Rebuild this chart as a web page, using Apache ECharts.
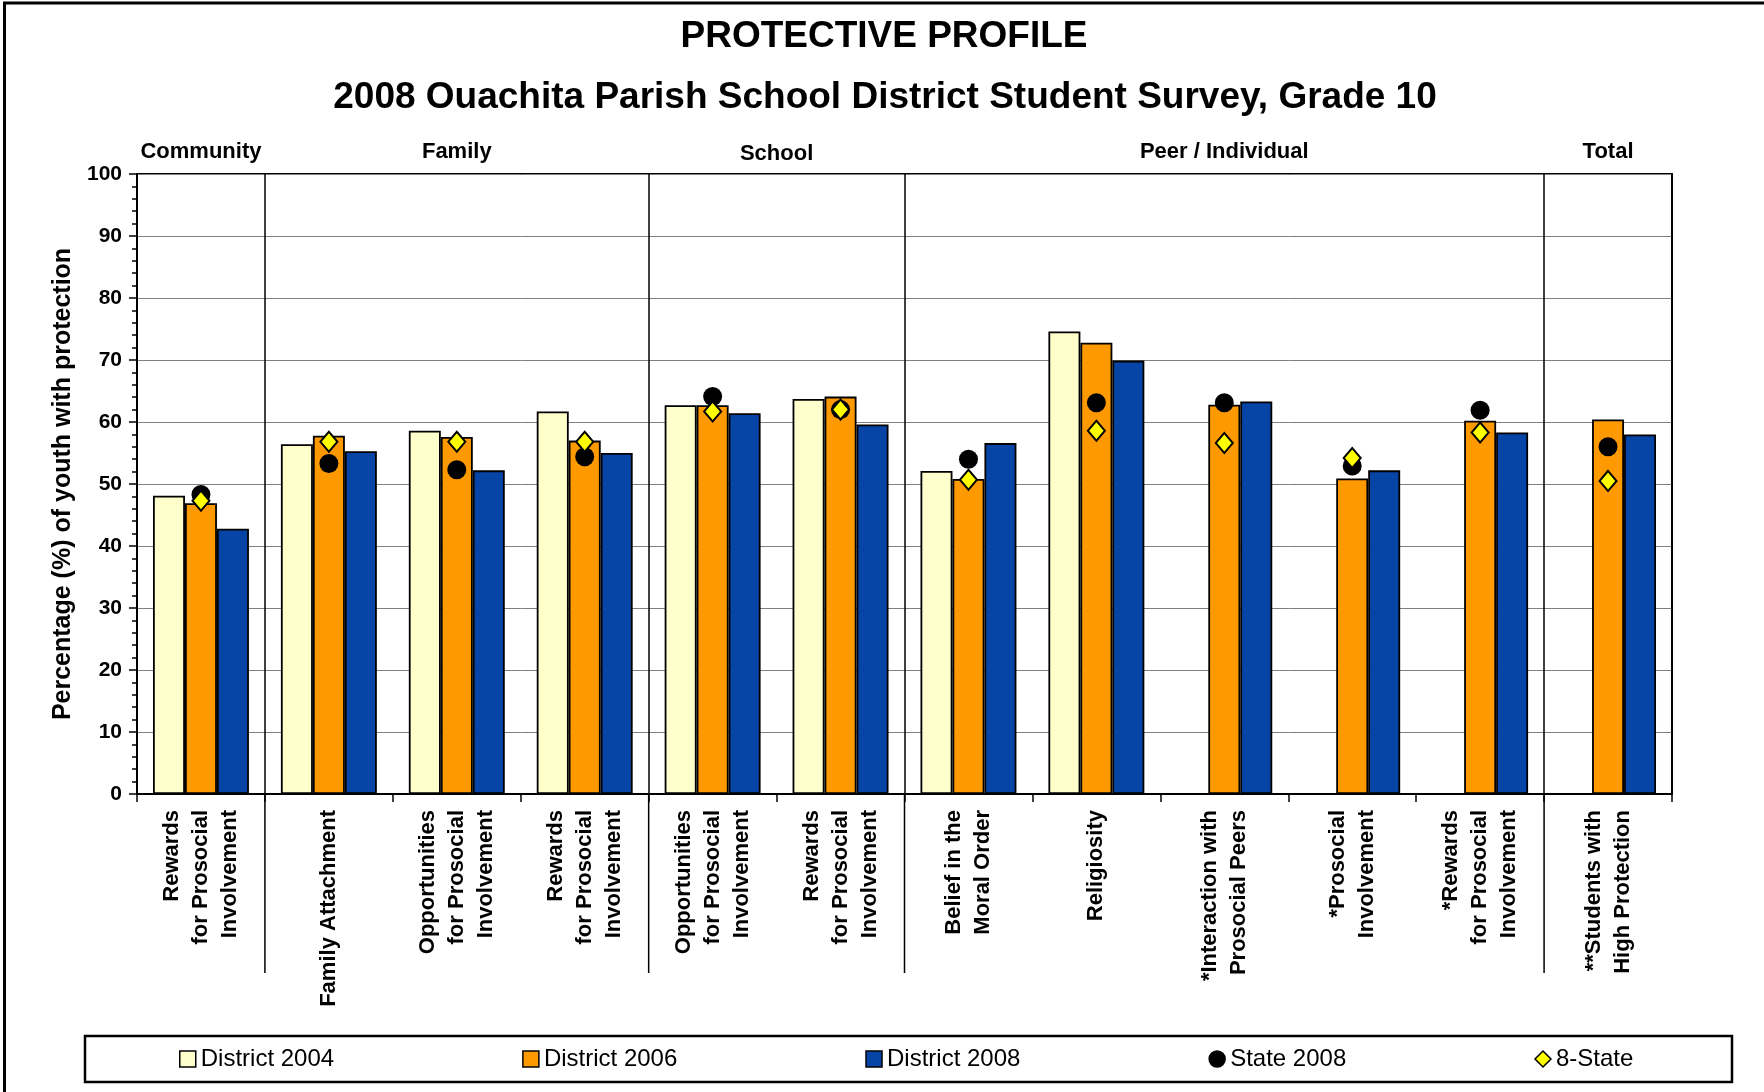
<!DOCTYPE html>
<html><head><meta charset="utf-8">
<script src="https://cdn.jsdelivr.net/npm/echarts@6/dist/echarts.min.js"></script>
<style>html,body{margin:0;padding:0;background:#fff}#c{width:1764px;height:1092px}</style>
</head><body><div id="c"></div>
<script>
// ---- data ----
const categories = [
  'Rewards\nfor Prosocial\nInvolvement',
  'Family Attachment',
  'Opportunities\nfor Prosocial\nInvolvement',
  'Rewards\nfor Prosocial\nInvolvement',
  'Opportunities\nfor Prosocial\nInvolvement',
  'Rewards\nfor Prosocial\nInvolvement',
  'Belief in the\nMoral Order',
  'Religiosity',
  '*Interaction with\nProsocial Peers',
  '*Prosocial\nInvolvement',
  '*Rewards\nfor Prosocial\nInvolvement',
  '**Students with\nHigh Protection'
];
const district2004 = [48.1, 56.4, 58.6, 61.7, 62.7, 63.7, 52.1, 74.6, null, null, null, null];
const district2006 = [46.9, 57.8, 57.6, 57.0, 62.7, 64.1, 50.8, 72.8, 62.8, 50.9, 60.2, 60.4];
const district2008 = [42.8, 55.3, 52.2, 55.0, 61.4, 59.6, 56.6, 69.9, 63.3, 52.2, 58.3, 58.0];
const state2008    = [48.3, 53.3, 52.3, 54.4, 64.1, 62.0, 54.0, 63.1, 63.1, 52.9, 61.9, 56.0];
const eightState   = [47.3, 56.8, 56.8, 56.8, 61.7, 62.0, 50.7, 58.6, 56.6, 54.2, 58.3, 50.5];
const groupNames  = ['Community', 'Family', 'School', 'Peer / Individual', 'Total'];
const groupStarts = [0, 1, 4, 6, 11];
const groupEnds   = [0, 3, 5, 10, 11];
const seriesNames = ['District 2004', 'District 2006', 'District 2008', 'State 2008', '8-State'];
const titleText = 'PROTECTIVE PROFILE';
const subtitleText = '2008 Ouachita Parish School District Student Survey, Grade 10';
const yAxisName = 'Percentage (%) of youth with protection';

// ---- chart ----
const FONT = "'Liberation Sans', Arial, Helvetica, sans-serif";
const chart = echarts.init(document.getElementById('c'), null, {renderer: 'canvas'});
const sepIdx = groupStarts.slice(1);
const barItem = (c) => ({color: c, borderColor: '#000', borderWidth: 1.8});

chart.setOption({
  animation: false,
  backgroundColor: '#fff',
  grid: {left: 137, right: 92, top: 174, bottom: 298, show: true,
         borderColor: '#000', borderWidth: 2, backgroundColor: 'transparent'},
  legend: {
    left: 179, top: 1047, itemGap: 188, itemWidth: 16, itemHeight: 16, padding: 0,
    textStyle: {fontFamily: FONT, fontSize: 24, color: '#000'},
    itemStyle: {borderColor: '#000', borderWidth: 1.5, opacity: 1},
    data: [
      {name: seriesNames[0], icon: 'rect'},
      {name: seriesNames[1], icon: 'rect'},
      {name: seriesNames[2], icon: 'rect'},
      {name: seriesNames[3], icon: 'circle'},
      {name: seriesNames[4], icon: 'diamond'}
    ]
  },
  xAxis: {
    type: 'category', data: categories,
    axisLine: {lineStyle: {color: '#000', width: 2}},
    axisTick: {show: true, length: 8, interval: 0, lineStyle: {color: '#000', width: 1.5}},
    axisLabel: {interval: 0, rotate: 90, margin: 16, fontFamily: FONT, fontWeight: 'bold',
                fontSize: 22, lineHeight: 29, color: '#000'},
    splitLine: {show: true, interval: (i) => sepIdx.indexOf(i) >= 0,
                lineStyle: {color: '#000', width: 1.5}}
  },
  yAxis: {
    type: 'value', min: 0, max: 100, interval: 10,
    name: yAxisName, nameLocation: 'middle', nameRotate: 90, nameGap: 60,
    nameTextStyle: {fontFamily: FONT, fontWeight: 'bold', fontSize: 25, color: '#000'},
    axisLine: {show: true, lineStyle: {color: '#000', width: 2}},
    axisTick: {show: true, length: 8, lineStyle: {color: '#000', width: 1.5}},
    minorTick: {show: true, splitNumber: 5, length: 5, lineStyle: {color: '#000', width: 1.5}},
    axisLabel: {margin: 15, fontFamily: FONT, fontWeight: 'bold', fontSize: 21, color: '#000'},
    splitLine: {show: true, lineStyle: {color: '#808080', width: 1}}
  },
  series: [
    {type: 'bar', name: seriesNames[0], data: district2004, itemStyle: barItem('#FFFFCC'),
     barGap: '0%', barCategoryGap: '25%'},
    {type: 'bar', name: seriesNames[1], data: district2006, itemStyle: barItem('#FF9900'),
     barGap: '0%', barCategoryGap: '25%'},
    {type: 'bar', name: seriesNames[2], data: district2008, itemStyle: barItem('#0645A5'),
     barGap: '0%', barCategoryGap: '25%'},
    {type: 'scatter', name: seriesNames[3], data: state2008, symbol: 'circle', symbolSize: 19,
     itemStyle: {color: '#000', opacity: 1}, z: 3},
    {type: 'scatter', name: seriesNames[4], data: eightState, symbol: 'diamond', symbolSize: [17, 20],
     itemStyle: {color: '#FFFF00', borderColor: '#000', borderWidth: 2, opacity: 1}, z: 4}
  ]
});

// ---- annotations positioned through the library's scales ----
const px = (i) => chart.convertToPixel({xAxisIndex: 0}, i);
const bw = px(1) - px(0);
const yBottom = chart.convertToPixel({yAxisIndex: 0}, 0);
const graphics = [];
graphics.push({type: 'rect', shape: {x: 4.5, y: 3, width: 1900, height: 1300},
  style: {fill: null, stroke: '#000', lineWidth: 3}, silent: true});
graphics.push({type: 'text', x: 884, y: 37, style: {text: titleText, textAlign: 'center', textVerticalAlign: 'middle',
  font: 'bold 37px ' + FONT, fill: '#000'}});
graphics.push({type: 'text', x: 885, y: 97.5, style: {text: subtitleText, textAlign: 'center', textVerticalAlign: 'middle',
  font: 'bold 37px ' + FONT, fill: '#000'}});
groupNames.forEach((g, k) => {
  const cx = (px(groupStarts[k]) + px(groupEnds[k])) / 2;
  graphics.push({type: 'text', x: cx, y: g === 'School' ? 154 : 151.5,
    style: {text: g, textAlign: 'center', textVerticalAlign: 'middle', font: 'bold 22px ' + FONT, fill: '#000'}});
});
sepIdx.forEach((b) => {
  const x = px(b) - bw / 2;
  graphics.push({type: 'line', shape: {x1: x, y1: yBottom, x2: x, y2: 973},
    style: {stroke: '#000', lineWidth: 1.5}, silent: true});
});
graphics.push({type: 'rect', shape: {x: 85, y: 1036, width: 1647, height: 46},
  style: {fill: null, stroke: '#000', lineWidth: 2.5}, silent: true, z: -1});
chart.setOption({graphic: graphics});
</script>
</body></html>
